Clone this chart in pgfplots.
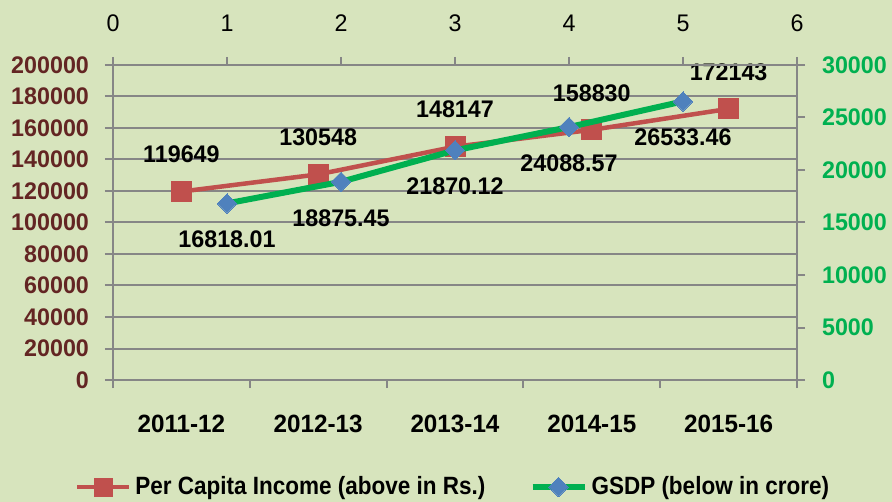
\documentclass[border=0pt]{standalone}
\usepackage{fontspec}
\setmainfont{Liberation Sans}[FakeStretch=0.9]
\newfontfamily\numf{Liberation Sans}[FakeStretch=0.97]
\usepackage{pgfplots}
\pgfplotsset{compat=1.18}
\definecolor{bg}{HTML}{D7E4BD}
\definecolor{gridc}{HTML}{868686}
\definecolor{lred}{HTML}{632523}
\definecolor{gr}{HTML}{00B050}
\definecolor{rs}{HTML}{C0504D}
\definecolor{bl}{HTML}{4F81BD}
\newcommand\lfs{\fontsize{12}{14}\selectfont}
\newcommand\lgs{\fontsize{12.5}{14}\selectfont}
\begin{document}
\begin{tikzpicture}
\fill[bg] (-56.5pt,-61pt) rectangle (389.5pt,190pt);
\begin{axis}[
  scale only axis, width=342pt, height=157.5pt, at={(0,0)}, anchor=south west,
  xmin=-0.5, xmax=4.5, ymin=0, ymax=200000,
  axis x line*=bottom, axis y line*=left,
  tick align=outside, major tick length=4pt,
  axis line style={gridc, line width=1pt},
  tick style={gridc, line width=1pt},
  xtick={-0.5,0.5,1.5,2.5,3.5,4.5}, xticklabels={,,,,,},
  extra x ticks={0,1,2,3,4},
  extra x tick labels={2011-12,2012-13,2013-14,2014-15,2015-16},
  extra x tick style={tick style={draw=none}, tick label style={font=\numf\bfseries\lgs, text=black, yshift=-10pt}},
  ytick={0,20000,40000,60000,80000,100000,120000,140000,160000,180000,200000},
  yticklabels={0,20000,40000,60000,80000,100000,120000,140000,160000,180000,200000},
  ymajorgrids, grid style={gridc, line width=1pt},
  scaled y ticks=false,
  yticklabel style={font=\numf\bfseries\lfs, text=lred, xshift=-4.5pt},
  clip=false,
]
\addplot[rs, line width=2.25pt, mark=square*, mark size=5pt, mark options={fill=rs, draw=rs, line width=0pt},
  point meta=explicit symbolic, nodes near coords,
  nodes near coords style={font=\numf\bfseries\lfs, text=black, anchor=center, yshift=18.5pt}]
  coordinates {(0,119649)[119649] (1,130548)[130548] (2,148147)[148147] (3,158830)[158830] (4,172143)[172143]};
\end{axis}
\begin{axis}[
  scale only axis, width=342pt, height=157.5pt, at={(0,0)}, anchor=south west,
  xmin=0, xmax=6, ymin=0, ymax=30000,
  axis x line*=top, axis y line*=right,
  tick align=outside, major tick length=4pt,
  axis line style={gridc, line width=1pt},
  tick style={gridc, line width=1pt},
  xtick={0,1,2,3,4,5,6}, xticklabels={0,1,2,3,4,5,6},
  ytick={0,5000,10000,15000,20000,25000,30000},
  yticklabels={0,5000,10000,15000,20000,25000,30000},
  scaled y ticks=false,
  xticklabel style={font=\numf\lfs, text=black, yshift=9pt},
  yticklabel style={font=\numf\bfseries\lfs, text=gr, xshift=5pt},
  clip=false,
  legend style={at={(0.4985,-0.34)}, anchor=center, draw=none, fill=none,
    font=\bfseries\lgs, legend columns=2,
    /tikz/every even column/.append style={column sep=20pt}},
  legend image code/.code={\draw[mark repeat=2,mark phase=2] plot coordinates {(0pt,0pt)(13pt,0pt)(26pt,0pt)};},
]
\addlegendimage{rs, line width=2.25pt, mark=square*, mark size=4.5pt, mark options={fill=rs, draw=rs, line width=0pt}}
\addlegendentry{Per Capita Income (above in Rs.)}
\addplot[gr, line width=3pt, mark=square*, mark size=3.4pt, mark options={rotate=45, fill=bl, draw=bl, line width=0pt},
  point meta=explicit symbolic, nodes near coords,
  nodes near coords style={font=\numf\bfseries\lfs, text=black, anchor=center, yshift=-18pt}]
  coordinates {(1,16818.01)[16818.01] (2,18875.45)[18875.45] (3,21870.12)[21870.12] (4,24088.57)[24088.57] (5,26533.46)[26533.46]};
\addlegendentry{GSDP (below in crore)}
\end{axis}
\pgfresetboundingbox
\path[use as bounding box] (-56.5pt,-61pt) rectangle (389.5pt,190pt);
\end{tikzpicture}
\end{document}
